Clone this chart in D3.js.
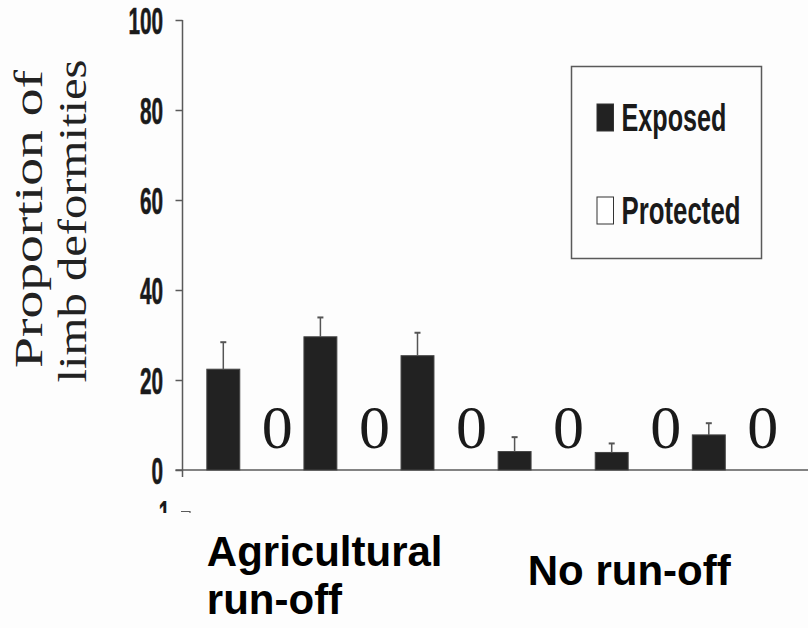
<!DOCTYPE html>
<html>
<head>
<meta charset="utf-8">
<script src="https://cdn.jsdelivr.net/npm/d3@7"></script>
<style>
  body { margin: 0; background: #fff; }
  svg { display: block; }
</style>
</head>
<body>
<div id="chart"></div>
<script>
// site groups
const sites = ["Site 1", "Site 2", "Site 3", "Site 4", "Site 5", "Site 6"];
const treatments = ["Exposed", "Protected"];
const exposedValues = [22.4, 29.6, 25.4, 4.1, 3.9, 7.8];
const exposedErrors = [6.0, 4.3, 5.1, 3.2, 2.0, 2.6];
const protectedValues = [0, 0, 0, 0, 0, 0];
const yTicks = [0, 20, 40, 60, 80, 100];
const groupLabels = [["Agricultural", "run-off"], ["No run-off"]];

const width = 808, height = 628;
const tickScale = 0.56;

const svg = d3.select("#chart").append("svg")
  .attr("width", width)
  .attr("height", height);

svg.append("rect").attr("width", width).attr("height", height).attr("fill", "#fdfdfd");

const y = d3.scaleLinear().domain([0, 100]).range([470, 20]);

const x0 = d3.scaleBand()
  .domain(sites)
  .range([196.3, 196.3 + 6 * 97.1]);

const x1 = d3.scaleBand()
  .domain(treatments)
  .range([0, 108])
  .paddingInner(0.39)
  .paddingOuter(0.195);

const axisX = 182.5;
const axisColor = "#5a5a5a";

// y axis
const yAxis = d3.axisLeft(y).tickValues(yTicks).tickSize(7).tickSizeOuter(0);
const gY = svg.append("g")
  .attr("transform", "translate(" + axisX + ",0)")
  .call(yAxis);
gY.select(".domain").remove();
gY.selectAll(".tick line").attr("stroke", axisColor).attr("stroke-width", 1.5);
gY.selectAll(".tick text")
  .attr("x", -19.5 / tickScale)
  .attr("dy", "0.36em")
  .attr("transform", "scale(" + tickScale + ",1)")
  .style("font-family", "'Liberation Sans', Arial, sans-serif")
  .style("font-weight", "bold")
  .style("font-size", "37px")
  .attr("fill", "#1a1a1a")
  .attr("stroke", "#1a1a1a")
  .attr("stroke-width", 0.6);

svg.append("line")
  .attr("x1", axisX).attr("x2", axisX)
  .attr("y1", y(100)).attr("y2", y(0) + 7)
  .attr("stroke", axisColor).attr("stroke-width", 1.5);

// x axis line
svg.append("line")
  .attr("x1", axisX - 7).attr("x2", width)
  .attr("y1", y(0)).attr("y2", y(0))
  .attr("stroke", axisColor).attr("stroke-width", 1.5);

// exposed bars
const bw = x1.bandwidth();
svg.append("g").selectAll("rect")
  .data(exposedValues)
  .join("rect")
  .attr("x", (d, i) => x0(sites[i]) + x1("Exposed"))
  .attr("y", d => y(d))
  .attr("width", bw)
  .attr("height", d => y(0) - y(d))
  .attr("fill", "#222")
  .attr("stroke", "#444")
  .attr("stroke-width", 1);

// error bars
const eb = svg.append("g").attr("stroke", "#555").attr("stroke-width", 1.5);
exposedValues.forEach(function(v, i) {
  const cx = x0(sites[i]) + x1("Exposed") + bw / 2;
  eb.append("line")
    .attr("x1", cx).attr("x2", cx)
    .attr("y1", y(v)).attr("y2", y(v + exposedErrors[i]));
  eb.append("line")
    .attr("x1", cx - 3).attr("x2", cx + 3)
    .attr("y1", y(v + exposedErrors[i])).attr("y2", y(v + exposedErrors[i]))
    .attr("stroke-width", 2);
});

// protected values (all zero) shown as "0"
svg.append("g").selectAll("text")
  .data(protectedValues)
  .join("text")
  .attr("x", (d, i) => x0(sites[i]) + x1("Protected") + bw / 2)
  .attr("y", d => y(d) - 22)
  .attr("text-anchor", "middle")
  .style("font-family", "'Liberation Serif', 'Times New Roman', serif")
  .style("font-size", "62px")
  .attr("fill", "#1a1a1a")
  .text(d => d);

// y axis title
const title = svg.append("g")
  .attr("transform", "translate(0,219) rotate(-90)")
  .style("font-family", "'Liberation Serif', 'Times New Roman', serif")
  .style("font-size", "41px")
  .attr("fill", "#222");
title.append("text")
  .attr("x", 0).attr("y", 42)
  .attr("text-anchor", "middle")
  .attr("textLength", 298)
  .attr("lengthAdjust", "spacingAndGlyphs")
  .text("Proportion of");
title.append("text")
  .attr("x", -2).attr("y", 86)
  .attr("text-anchor", "middle")
  .attr("textLength", 323)
  .attr("lengthAdjust", "spacingAndGlyphs")
  .text("limb deformities");

// legend
const legend = svg.append("g");
legend.append("rect")
  .attr("x", 571.5).attr("y", 66.5)
  .attr("width", 190).attr("height", 192)
  .attr("fill", "none").attr("stroke", axisColor).attr("stroke-width", 1.5);
const legendRows = [
  { name: treatments[0], fill: "#222", y: 131, len: 105 },
  { name: treatments[1], fill: "#fff", y: 224, len: 119 }
];
legendRows.forEach(function(r) {
  legend.append("rect")
    .attr("x", 597).attr("y", r.y - 27)
    .attr("width", 16.5).attr("height", 27)
    .attr("fill", r.fill).attr("stroke", "#333").attr("stroke-width", 1);
  legend.append("text")
    .attr("x", 621.5).attr("y", r.y)
    .attr("textLength", r.len)
    .attr("lengthAdjust", "spacingAndGlyphs")
    .style("font-family", "'Liberation Sans', Arial, sans-serif")
    .style("font-weight", "bold")
    .style("font-size", "39px")
    .attr("fill", "#1a1a1a")
    .text(r.name);
});

// clipped piece of the next panel below
svg.append("clipPath").attr("id", "cut")
  .append("rect").attr("x", 0).attr("y", 0).attr("width", width).attr("height", 513);
const cutG = svg.append("g").attr("clip-path", "url(#cut)");
cutG.append("text")
  .attr("x", 170 / tickScale).attr("y", 527)
  .attr("text-anchor", "end")
  .attr("transform", "scale(" + tickScale + ",1)")
  .style("font-family", "'Liberation Sans', Arial, sans-serif")
  .style("font-weight", "bold")
  .style("font-size", "37px")
  .attr("fill", "#1a1a1a")
  .text("1");
cutG.append("path")
  .attr("d", "M181,511.5H190V516")
  .attr("fill", "none").attr("stroke", axisColor).attr("stroke-width", 1.2);

// group labels
const labelStyle = function(sel) {
  sel.style("font-family", "'Liberation Sans', Arial, sans-serif")
    .style("font-weight", "bold")
    .style("font-size", "42px")
    .attr("fill", "#000");
};
const agX = x0(sites[0]) + x1("Exposed");
groupLabels[0].forEach(function(t, i) {
  svg.append("text")
    .attr("x", agX).attr("y", 566 + i * 48)
    .call(labelStyle)
    .text(t);
});
svg.append("text")
  .attr("x", (x0(sites[3]) + x0(sites[5]) + x0.bandwidth()) / 2 - 4)
  .attr("y", 585)
  .attr("text-anchor", "middle")
  .call(labelStyle)
  .text(groupLabels[1][0]);
</script>
</body>
</html>
